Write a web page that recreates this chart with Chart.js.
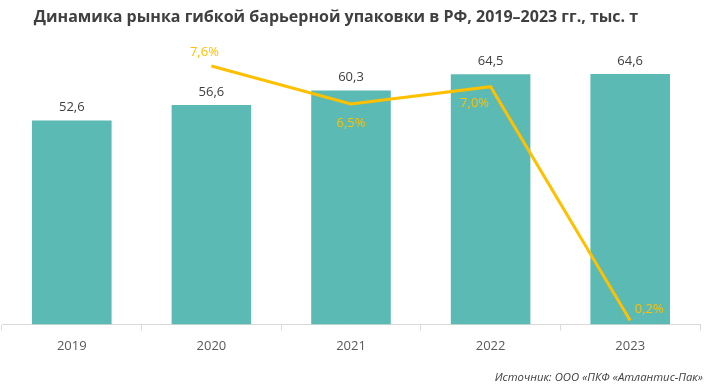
<!DOCTYPE html>
<html>
<head>
<meta charset="utf-8">
<script src="https://cdn.jsdelivr.net/npm/chart.js@4"></script>
<style>
  body { margin: 0; background: #fff; }
  #wrap { width: 708px; height: 388px; position: relative; }
</style>
</head>
<body>
<div id="wrap"><canvas id="c"></canvas></div>
<script>
// данные
const years = ['2019', '2020', '2021', '2022', '2023'];
const volume = [52.6, 56.6, 60.3, 64.5, 64.6];
const growth = [null, 7.6, 6.5, 7.0, 0.2];

const titleText = 'Динамика рынка гибкой барьерной упаковки в РФ, 2019–2023 гг., тыс. т';
const sourceText = 'Источник: ООО «ПКФ «Атлантис-Пак»';

const fmt = v => v.toFixed(1).replace('.', ',');

// подписи, заголовок и источник
const labelsPlugin = {
    id: 'labels',
    afterDatasetsDraw(chart) {
        const ctx = chart.ctx;
        ctx.save();
        // значения над столбцами
        const barMeta = chart.getDatasetMeta(0);
        ctx.font = '13px "Open Sans", sans-serif';
        ctx.fillStyle = '#404040';
        ctx.textAlign = 'center';
        ctx.textBaseline = 'middle';
        barMeta.data.forEach((bar, i) => {
            ctx.fillText(fmt(volume[i]), bar.x, bar.y - 13);
        });
        // проценты у линии
        const lineMeta = chart.getDatasetMeta(1);
        const offs = [null, [-7, -14], [0, 19], [-16, 17], [19, -11]];
        ctx.fillStyle = '#FFC000';
        lineMeta.data.forEach((pt, i) => {
            if (growth[i] === null) return;
            ctx.fillText(fmt(growth[i]) + '%', pt.x + offs[i][0], pt.y + offs[i][1]);
        });
        // заголовок
        ctx.font = 'bold 16px "Open Sans", sans-serif';
        ctx.fillStyle = '#404040';
        ctx.fillText(titleText, 336, 17);
        // источник
        ctx.font = 'italic 11.3px "Open Sans", sans-serif';
        ctx.textAlign = 'right';
        ctx.fillText(sourceText, 703, 378);
        ctx.restore();
    }
};

new Chart(document.getElementById('c'), {
    data: {
        labels: years,
        datasets: [
            {
                type: 'bar',
                data: volume,
                backgroundColor: '#5BBAB4',
                categoryPercentage: 1,
                barPercentage: 0.57,
                yAxisID: 'y',
                order: 2
            },
            {
                type: 'line',
                data: growth,
                borderColor: '#FFC000',
                borderWidth: 3,
                pointRadius: 0,
                tension: 0,
                yAxisID: 'y2',
                order: 1
            }
        ]
    },
    options: {
        responsive: true,
        maintainAspectRatio: false,
        animation: false,
        layout: {
            padding: { top: 53, left: 2, right: 8, bottom: 26 }
        },
        plugins: {
            legend: { display: false },
            tooltip: { enabled: false }
        },
        scales: {
            x: {
                grid: {
                    offset: true,
                    drawOnChartArea: false,
                    tickLength: 6,
                    color: '#d9d9d9'
                },
                border: { color: '#d9d9d9' },
                ticks: {
                    color: '#595959',
                    font: { size: 13, family: '"Open Sans", sans-serif' },
                    padding: 8
                }
            },
            y: { display: false, min: 0, max: 70 },
            y2: { display: false, min: 0.085, max: 7.98 }
        }
    },
    plugins: [labelsPlugin]
});
</script>
</body>
</html>
